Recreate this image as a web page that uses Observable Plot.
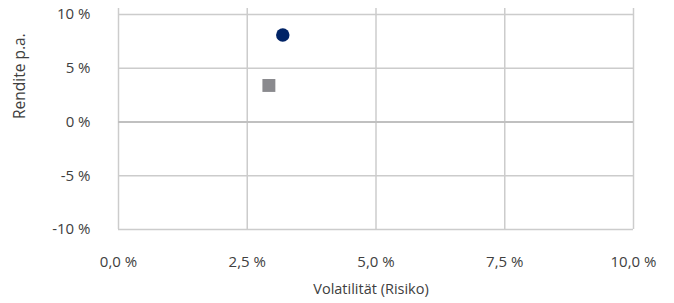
<!DOCTYPE html>
<html>
<head>
<meta charset="utf-8">
<script src="https://cdn.jsdelivr.net/npm/d3@7"></script>
<script src="https://cdn.jsdelivr.net/npm/@observablehq/plot@0.6"></script>
<style>
  html, body { margin: 0; padding: 0; background: #fff; }
  #chart svg { display: block; }
</style>
</head>
<body>
<div id="chart"></div>
<script>
const names = ["Fonds", "Vergleich"];
const volatility = [3.19, 2.92];
const returns = [8.1, 3.4];
const symbols = ["circle", "square"];
const colours = ["#002366", "#8a8a8e"];
const xTicks = [0, 2.5, 5, 7.5, 10];
const yTicks = [-10, -5, 0, 5, 10];
const xTitle = "Volatilität (Risiko)";
const yTitle = "Rendite p.a.";

const points = names.map((n, i) => ({name: n, x: volatility[i], y: returns[i], symbol: symbols[i], colour: colours[i]}));
const fmtX = d => d.toFixed(1).replace(".", ",") + " %";
const fmtY = d => d + " %";
const font = "'Open Sans', sans-serif";

const chart = Plot.plot({
  width: 674,
  height: 303,
  marginLeft: 118,
  marginRight: 41,
  marginTop: 8,
  marginBottom: 74,
  style: {fontFamily: font, fontSize: "15px", color: "#404040", background: "#fff"},
  x: {domain: [0, 10]},
  y: {domain: [-10, 10.56]},
  marks: [
    Plot.ruleX(xTicks, {stroke: "#cccccc", strokeWidth: 1.5}),
    Plot.ruleY(yTicks.filter(d => d !== 0), {stroke: "#cccccc", strokeWidth: 1.5}),
    Plot.ruleY([0], {stroke: "#c0c0c0", strokeWidth: 2.2}),
    Plot.axisX({ticks: xTicks, tickSize: 0, tickPadding: 27, tickFormat: fmtX, label: null, fill: "#404040", fontSize: 15}),
    Plot.axisY({ticks: yTicks, tickSize: 0, tickPadding: 28, tickFormat: fmtY, label: null, fill: "#404040", fontSize: 15}),
    Plot.text([xTitle], {frameAnchor: "bottom", dy: 64, dx: -5, fill: "#404040", fontSize: 14.5}),
    Plot.text([yTitle], {frameAnchor: "left", dx: -98, rotate: -90, fill: "#404040", fontSize: 15.5}),
    Plot.dot(points.filter(d => d.symbol === "circle"), {x: "x", y: "y", symbol: "circle", r: 6.7, fill: "colour", stroke: "none"}),
    Plot.dot(points.filter(d => d.symbol === "square"), {x: "x", y: "y", symbol: "square", r: 7.3, fill: "colour", stroke: "none"})
  ]
});
document.getElementById("chart").appendChild(chart);
</script>
</body>
</html>
